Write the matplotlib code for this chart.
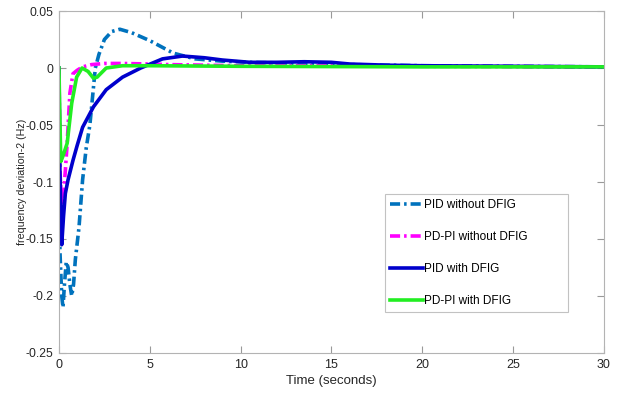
import numpy as np
import matplotlib.pyplot as plt

plt.rcParams['font.family'] = ['Liberation Sans', 'DejaVu Sans']

# PID without DFIG
t_pid = [0, 0.05, 0.15, 0.22, 0.3, 0.4, 0.5, 0.6, 0.7, 0.8, 0.9, 1.1, 1.3, 1.5, 1.7,
         1.85, 2.0, 2.2, 2.5, 2.9, 3.35, 4.0, 5.0, 6.3, 7.5, 9, 10.5, 12, 14, 16, 20, 25, 30]
f_pid = [0, -0.16, -0.20, -0.21, -0.19, -0.17, -0.175, -0.19, -0.20, -0.19, -0.168, -0.14,
         -0.098, -0.07, -0.05, -0.025, 0.0, 0.012, 0.025, 0.032, 0.034, 0.031, 0.024, 0.013,
         0.008, 0.006, 0.005, 0.0045, 0.004, 0.003, 0.002, 0.0015, 0.001]

# PD-PI without DFIG
t_pdpi = [0, 0.05, 0.15, 0.25, 0.35, 0.45, 0.6, 0.77, 1.0, 1.3, 1.8, 2.5, 3.5, 5.0, 6, 8, 10, 15, 20, 30]
f_pdpi = [0, -0.09, -0.12, -0.11, -0.09, -0.066, -0.022, -0.005, -0.002, 0.001, 0.003, 0.004,
          0.004, 0.0035, 0.003, 0.0025, 0.002, 0.002, 0.0015, 0.001]

# PID with DFIG
t_pid_d = [0, 0.05, 0.15, 0.25, 0.35, 0.5, 0.77, 1.0, 1.3, 1.9, 2.6, 3.5, 4.5, 5.7, 6.8, 8.0,
           9, 10.5, 12, 13.5, 15, 16, 18, 20, 25, 30]
f_pid_d = [0, -0.09, -0.155, -0.13, -0.11, -0.098, -0.081, -0.068, -0.052, -0.034, -0.019,
           -0.008, 0.0, 0.008, 0.0105, 0.009, 0.007, 0.005, 0.005, 0.0055, 0.005, 0.0035,
           0.0025, 0.002, 0.0015, 0.001]

# PD-PI with DFIG
t_pdpi_d = [0, 0.03, 0.1, 0.2, 0.45, 0.7, 0.97, 1.27, 1.6, 1.9, 2.1, 2.6, 3.5, 5, 10, 20, 30]
f_pdpi_d = [0, -0.03, -0.082, -0.078, -0.066, -0.031, -0.008, 0.0, -0.003, -0.009, -0.008,
            0.0, 0.002, 0.002, 0.0015, 0.001, 0.001]

yticks = [0.05, 0, -0.05, -0.1, -0.15, -0.2, -0.25]
ytick_labels = ['0.05', '0', '-0.05', '-0.1', '-0.15', '-0.2', '-0.25']

fig = plt.figure(figsize=(6.33, 3.96), dpi=100)
ax = fig.add_axes([0.0932, 0.1086, 0.8608, 0.8636])

dashdot = (2.8, 1.1, 0.7, 1.1)
ax.plot(t_pid, f_pid, color='#0072bd', lw=2.6, dashes=dashdot, label='PID without DFIG')
ax.plot(t_pdpi, f_pdpi, color='#ff00ff', lw=2.6, dashes=dashdot, label='PD-PI without DFIG')
ax.plot(t_pid_d, f_pid_d, '-', color='#0000cc', lw=2.6, label='PID with DFIG')
ax.plot(t_pdpi_d, f_pdpi_d, '-', color='#22ee22', lw=2.6, label='PD-PI with DFIG')

ax.set_xlim(0, 30)
ax.set_ylim(-0.25, 0.05)
ax.set_xticks(range(0, 31, 5))
ax.set_yticks(yticks)
ax.set_yticklabels(ytick_labels)
ax.tick_params(direction='in', top=True, right=True, labelsize=9, colors='0.6',
               labelcolor='0.15', length=5, pad=4)
ax.tick_params(axis='y', labelsize=8.7)
for s in ax.spines.values():
    s.set_color('0.7')

ax.set_xlabel('Time (seconds)', fontsize=9.5, color='0.15', labelpad=3)
ax.set_ylabel('frequency deviation-2 (Hz)', fontsize=7.7, color='0.15', labelpad=-1)

leg = ax.legend(loc='lower left', bbox_to_anchor=(0.598, 0.12, 0.336, 0.365), mode='expand',
                fontsize=8.5, frameon=True, fancybox=False, labelspacing=1.7,
                handlelength=2.8, handletextpad=0.1, borderaxespad=0)
leg.get_frame().set_edgecolor('0.7')
leg.get_frame().set_linewidth(0.8)

fig.savefig('out.png', dpi=100)
